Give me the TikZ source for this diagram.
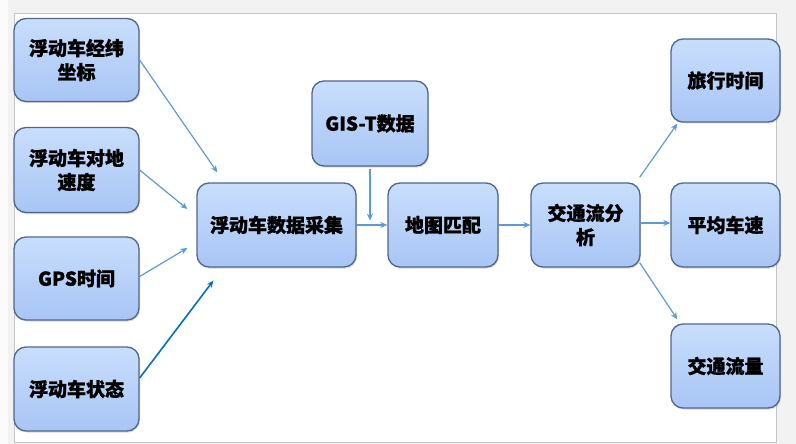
\documentclass[tikz,border=0pt]{standalone}
\usepackage{fontspec}
\newfontfamily\cjk{Noto Sans CJK SC}[BoldFeatures={FakeBold=1.2}]
\usetikzlibrary{arrows.meta,shadows,calc}
\definecolor{boxtop}{RGB}{200,222,252}
\definecolor{boxbot}{RGB}{168,197,244}
\definecolor{boxedge}{RGB}{82,102,138}
\definecolor{arrowc}{RGB}{91,155,213}
\definecolor{arrowd}{RGB}{0,112,192}
\definecolor{bggray}{RGB}{242,242,242}
\definecolor{panelline}{RGB}{196,196,196}
\begin{document}
\begin{tikzpicture}[x=1pt,y=-1pt,
  flowbox/.style={draw=boxedge,line width=1.3pt,rounded corners=12pt,
    top color=boxtop,bottom color=boxbot,
    drop shadow={shadow xshift=1pt,shadow yshift=-1.5pt,opacity=0.3},
    align=center,inner sep=2pt,
    font=\cjk\bfseries\fontsize{19}{24}\selectfont},
  arr/.style={draw=arrowc,line width=1.2pt,-{Stealth[length=7pt,width=6pt]}},
  arrdark/.style={draw=arrowd,line width=1.6pt,-{Stealth[length=7pt,width=6pt]}}]
% background
\fill[bggray] (0,0) rectangle (796,444);
\fill[white!97!gray] (0,0) rectangle (8,444);
\draw[panelline,fill=white,line width=0.8pt] (14,13) rectangle (776,442);
\useasboundingbox (0,0) rectangle (796,444);
% nodes
\node[flowbox,minimum width=125pt,minimum height=83pt] (a1) at (76.5,60) {浮动车经纬\\坐标};
\node[flowbox,minimum width=125pt,minimum height=85pt] (a2) at (76.5,170) {浮动车对地\\速度};
\node[flowbox,minimum width=125pt,minimum height=83pt] (a3) at (76.5,278.5) {GPS时间};
\node[flowbox,minimum width=125pt,minimum height=84pt] (a4) at (76.5,389) {浮动车状态};
\node[flowbox,minimum width=159pt,minimum height=84pt] (c) at (276.5,225) {浮动车数据采集};
\node[flowbox,minimum width=116pt,minimum height=85pt] (g) at (370,123.5) {GIS-T数据};
\node[flowbox,minimum width=110pt,minimum height=84pt] (m) at (443,225) {地图匹配};
\node[flowbox,minimum width=109pt,minimum height=84pt] (t) at (585.5,225) {交通流分\\析};
\node[flowbox,minimum width=109pt,minimum height=83pt] (r1) at (725.5,80.5) {旅行时间};
\node[flowbox,minimum width=109pt,minimum height=84pt] (r2) at (725.5,225) {平均车速};
\node[flowbox,minimum width=109pt,minimum height=84pt] (r3) at (725.5,366) {交通流量};
% free arrow ends
\coordinate (e1) at ($(c.north west)+(21,-10)$);
\coordinate (e2) at ($(c.west)+(-9,-16)$);
\coordinate (e3) at ($(c.west)+(-9,23)$);
\coordinate (e4) at ($(c.south west)+(17,13)$);
\coordinate (eg) at ($(g.south)+(0,54)$);
\coordinate (er1) at ($(r1.south west)+(7,1)$);
\coordinate (er3) at ($(r3.north west)+(7,-4)$);
% connectors
\draw[arr] (a1.east) -- (e1);
\draw[arr] (a2.east) -- (e2);
\draw[arr] ([yshift=2pt]a3.east) -- (e3);
\draw[arrdark] ([yshift=11pt]a4.east) -- (e4);
\draw[arr] (c.east) -- (m.west);
\draw[arr] ([yshift=-2pt]g.south) -- (eg);
\draw[arr] (m.east) -- (t.west);
\draw[arr] ([yshift=2pt]t.east) -- ([yshift=2pt]r2.west);
\draw[arr] ([xshift=-1pt,yshift=5pt]t.north east) -- (er1);
\draw[arr] ([xshift=-1pt,yshift=5pt]t.south east) -- (er3);
\end{tikzpicture}
\end{document}
